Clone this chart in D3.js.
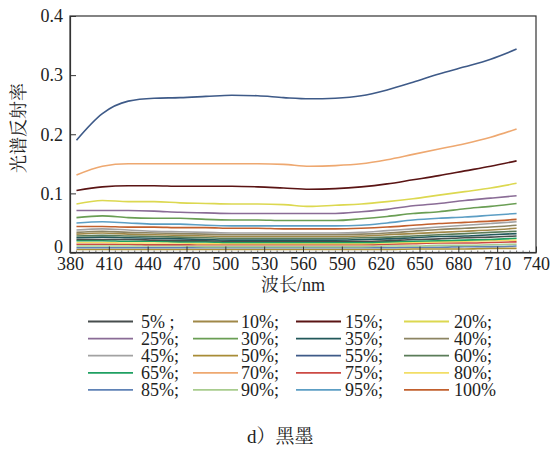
<!DOCTYPE html>
<html>
<head>
<meta charset="utf-8">
<script src="https://cdn.jsdelivr.net/npm/d3@7"></script>
<style>
  body { margin: 0; background: #fff; }
</style>
</head>
<body>
<svg id="chart" width="553" height="453"></svg>
<script>
// wavelengths (nm) for every series
const wavelengths = [385, 405, 425, 445, 465, 485, 505, 525, 545, 565, 585, 605, 625, 645, 665, 685, 705, 725];

// reflectance, one array per ink coverage
const r55  = [0.190, 0.235, 0.256, 0.261, 0.262, 0.264, 0.266, 0.265, 0.262, 0.260, 0.261, 0.265, 0.275, 0.288, 0.302, 0.314, 0.327, 0.344];
const r70  = [0.131, 0.146, 0.150, 0.150, 0.150, 0.150, 0.150, 0.150, 0.149, 0.146, 0.147, 0.150, 0.157, 0.166, 0.175, 0.184, 0.195, 0.209];
const r15  = [0.105, 0.111, 0.113, 0.113, 0.112, 0.112, 0.112, 0.111, 0.109, 0.107, 0.108, 0.111, 0.116, 0.123, 0.130, 0.138, 0.146, 0.155];
const r20  = [0.082, 0.088, 0.086, 0.086, 0.084, 0.083, 0.082, 0.082, 0.081, 0.078, 0.080, 0.082, 0.086, 0.091, 0.097, 0.103, 0.109, 0.117];
const r25  = [0.071, 0.071, 0.071, 0.070, 0.068, 0.067, 0.066, 0.066, 0.066, 0.066, 0.066, 0.069, 0.073, 0.079, 0.083, 0.088, 0.092, 0.096];
const r30  = [0.059, 0.062, 0.059, 0.058, 0.058, 0.056, 0.055, 0.055, 0.054, 0.054, 0.054, 0.057, 0.061, 0.066, 0.069, 0.074, 0.078, 0.083];
const r95  = [0.050, 0.052, 0.050, 0.048, 0.048, 0.046, 0.045, 0.045, 0.045, 0.045, 0.045, 0.046, 0.050, 0.055, 0.058, 0.060, 0.063, 0.066];
const r100 = [0.044, 0.044, 0.043, 0.043, 0.042, 0.042, 0.041, 0.041, 0.040, 0.040, 0.040, 0.041, 0.043, 0.046, 0.049, 0.051, 0.053, 0.056];
const r45  = [0.038, 0.040, 0.038, 0.036, 0.035, 0.034, 0.033, 0.033, 0.033, 0.033, 0.033, 0.034, 0.037, 0.040, 0.043, 0.046, 0.049, 0.052];
const r40  = [0.034, 0.036, 0.034, 0.033, 0.032, 0.031, 0.030, 0.030, 0.030, 0.030, 0.030, 0.031, 0.033, 0.036, 0.039, 0.041, 0.043, 0.046];
const r10  = [0.031, 0.033, 0.031, 0.030, 0.029, 0.028, 0.027, 0.027, 0.027, 0.027, 0.027, 0.028, 0.030, 0.032, 0.034, 0.036, 0.038, 0.041];
const r60  = [0.028, 0.029, 0.028, 0.027, 0.026, 0.025, 0.024, 0.024, 0.024, 0.024, 0.024, 0.025, 0.026, 0.028, 0.030, 0.032, 0.034, 0.036];
const r35  = [0.025, 0.026, 0.025, 0.024, 0.023, 0.022, 0.021, 0.021, 0.021, 0.021, 0.021, 0.022, 0.023, 0.025, 0.027, 0.028, 0.030, 0.032];
const r5   = [0.022, 0.022, 0.022, 0.021, 0.020, 0.020, 0.019, 0.019, 0.019, 0.019, 0.019, 0.019, 0.020, 0.022, 0.023, 0.025, 0.026, 0.028];
const r65  = [0.020, 0.020, 0.019, 0.019, 0.018, 0.018, 0.017, 0.017, 0.017, 0.017, 0.017, 0.017, 0.018, 0.019, 0.020, 0.021, 0.022, 0.024];
const r80  = [0.017, 0.017, 0.016, 0.016, 0.016, 0.015, 0.015, 0.015, 0.015, 0.015, 0.015, 0.015, 0.016, 0.017, 0.018, 0.019, 0.020, 0.021];
const r75  = [0.014, 0.014, 0.014, 0.013, 0.013, 0.013, 0.013, 0.013, 0.013, 0.013, 0.013, 0.013, 0.014, 0.015, 0.016, 0.016, 0.017, 0.018];
const r90  = [0.011, 0.011, 0.011, 0.011, 0.011, 0.010, 0.010, 0.010, 0.010, 0.010, 0.010, 0.010, 0.011, 0.011, 0.012, 0.012, 0.013, 0.014];
const r85  = [0.008, 0.008, 0.008, 0.008, 0.008, 0.008, 0.008, 0.008, 0.008, 0.008, 0.008, 0.008, 0.008, 0.009, 0.009, 0.010, 0.010, 0.011];
const r50  = [0.005, 0.005, 0.005, 0.005, 0.005, 0.005, 0.005, 0.005, 0.005, 0.005, 0.005, 0.005, 0.005, 0.006, 0.006, 0.006, 0.007, 0.007];

// legend order
const labels = ["5% ;", "10%;", "15%;", "20%;", "25%;", "30%;", "35%;", "40%;", "45%;", "50%;",
                "55%;", "60%;", "65%;", "70%;", "75%;", "80%;", "85%;", "90%;", "95%;", "100%"];
const values = [r5, r10, r15, r20, r25, r30, r35, r40, r45, r50,
                r55, r60, r65, r70, r75, r80, r85, r90, r95, r100];
const colors = ["#474d4d", "#a08848", "#5a1414", "#dcd850", "#8a6c96", "#6a9e54", "#22585a", "#8c8462", "#a2a2a2", "#a88c36",
                "#3e5a88", "#5a7c58", "#1fa062", "#eea870", "#cc4a44", "#f2de66", "#5f82b6", "#a8cc8e", "#5c9ec4", "#c2602e"];

const xTicks = d3.range(380, 741, 30);
const yTicks = [0, 0.1, 0.2, 0.3, 0.4];

const LATIN = "Liberation Serif";
const CJK = "Noto Serif CJK SC";

const svg = d3.select("#chart");
const x = d3.scaleLinear().domain([380, 740]).range([70, 536]);
const y = d3.scaleLinear().domain([0, 0.4]).range([252.5, 16]);

// lines, drawn from the bottom one up
const line = d3.line()
  .x((d, i) => x(wavelengths[i]))
  .y(d => y(d))
  .curve(d3.curveMonotoneX);

const order = d3.range(values.length).sort((a, b) => d3.mean(values[a]) - d3.mean(values[b]));
svg.append("g")
  .selectAll("path")
  .data(order)
  .join("path")
  .attr("d", i => line(values[i]))
  .attr("fill", "none")
  .attr("stroke", i => colors[i])
  .attr("stroke-width", 1.6);

// frame
svg.append("rect")
  .attr("x", 70).attr("y", 16)
  .attr("width", 466).attr("height", 236.5)
  .attr("fill", "none")
  .attr("stroke", "#333")
  .attr("stroke-width", 1.2);

// minor x ticks
svg.append("g")
  .selectAll("line")
  .data(d3.range(385, 740, 5).filter(v => (v - 380) % 30 !== 0))
  .join("line")
  .attr("x1", d => x(d)).attr("x2", d => x(d))
  .attr("y1", 252.5).attr("y2", 250.5)
  .attr("stroke", "#555").attr("stroke-width", 0.8);

const xAxis = svg.append("g")
  .attr("transform", "translate(0,252.5)")
  .call(d3.axisBottom(x).tickValues(xTicks).tickSizeInner(-6).tickSizeOuter(0).tickPadding(5).tickFormat(d3.format("d")))
  .attr("font-family", LATIN)
  .attr("font-size", 18);
xAxis.select(".domain").attr("stroke", "#333").attr("stroke-width", 1.2);
xAxis.selectAll(".tick line").attr("stroke", "#333");
xAxis.selectAll("text").attr("fill", "#222");

const yAxis = svg.append("g")
  .attr("transform", "translate(70,0)")
  .call(d3.axisLeft(y).tickValues(yTicks).tickSizeInner(-6).tickSizeOuter(0).tickPadding(7)
    .tickFormat(d => d === 0 ? "0" : d3.format(".1f")(d)))
  .attr("font-family", LATIN)
  .attr("font-size", 18);
yAxis.select(".domain").attr("stroke", "#333").attr("stroke-width", 1.2);
yAxis.selectAll(".tick line").attr("stroke", "#333");
yAxis.selectAll("text").attr("fill", "#222");
// the zero label sits a little above the axis line
yAxis.selectAll(".tick text").filter(d => d === 0).attr("y", -6);

// axis titles
const xTitle = svg.append("text")
  .attr("x", 293).attr("y", 291)
  .attr("text-anchor", "middle")
  .attr("font-size", 18)
  .attr("font-family", LATIN)
  .attr("fill", "#222");
xTitle.append("tspan").attr("font-family", CJK).text("波长");
xTitle.append("tspan").text("/nm");

svg.append("text")
  .attr("transform", "translate(25,128) rotate(-90)")
  .attr("text-anchor", "middle")
  .attr("font-size", 18)
  .attr("font-family", CJK)
  .attr("fill", "#222")
  .text("光谱反射率");

// legend, 4 columns x 5 rows
const colLine = [88, 193, 296, 404];
const colText = [141, 241, 345, 454];
const legend = svg.append("g")
  .selectAll("g")
  .data(labels)
  .join("g")
  .attr("transform", (d, i) => `translate(0,${321.5 + Math.floor(i / 4) * 17.1})`);

legend.append("line")
  .attr("x1", (d, i) => colLine[i % 4])
  .attr("x2", (d, i) => colLine[i % 4] + 45)
  .attr("stroke", (d, i) => colors[i])
  .attr("stroke-width", 1.8);

legend.append("text")
  .attr("x", (d, i) => colText[i % 4])
  .attr("y", 6)
  .attr("font-size", 18)
  .attr("font-family", LATIN)
  .attr("fill", "#222")
  .text(d => d);

// caption
const caption = svg.append("text")
  .attr("x", 247).attr("y", 443)
  .attr("font-size", 19)
  .attr("font-family", LATIN)
  .attr("fill", "#222");
caption.append("tspan").text("d");
caption.append("tspan").attr("font-family", CJK).text("）黑墨");
</script>
</body>
</html>
